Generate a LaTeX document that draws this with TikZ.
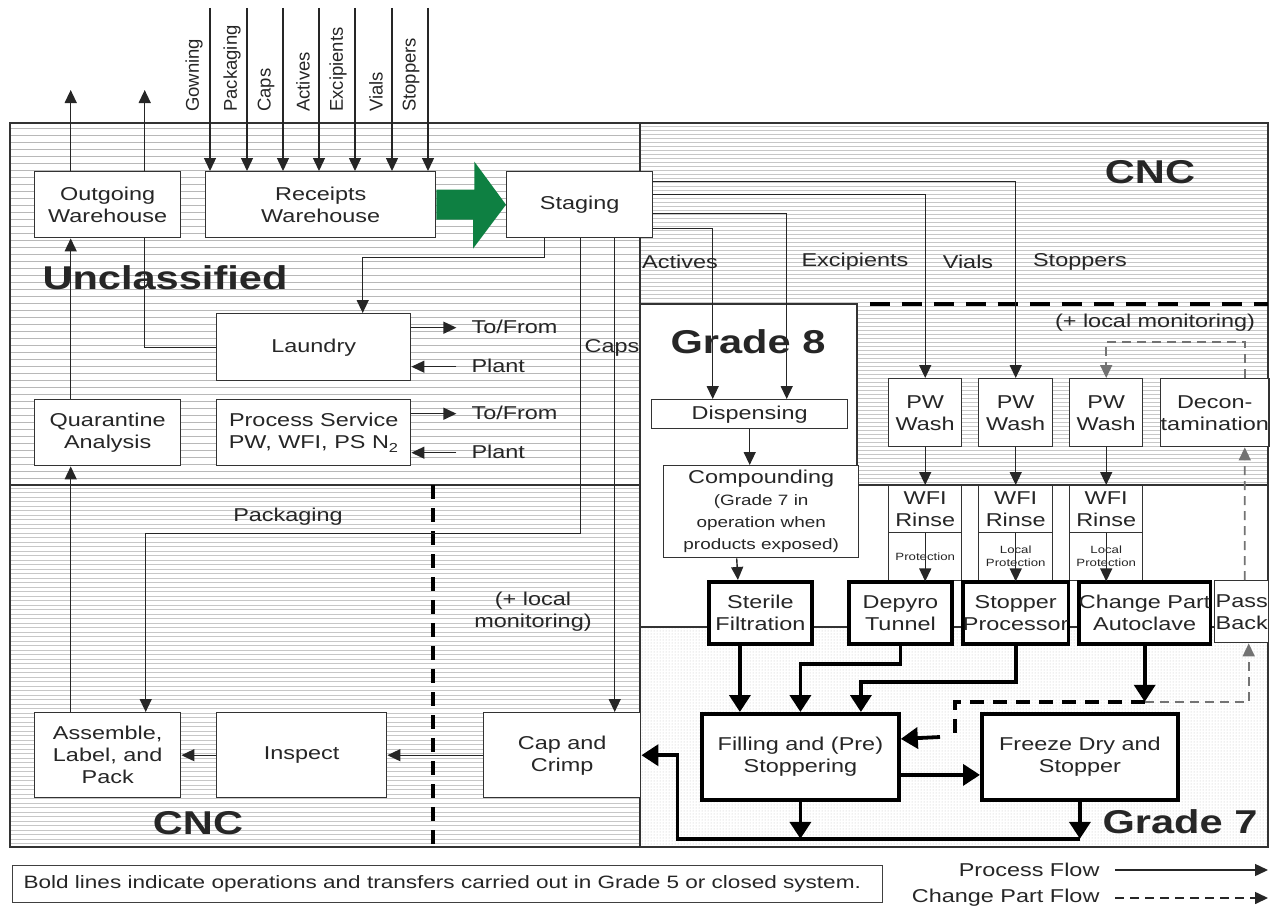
\documentclass[tikz,border=0pt]{standalone}
\usepackage{fontspec}
\setmainfont{Liberation Sans}[FakeStretch=1.26]
\newfontfamily\vfont{Liberation Sans}
\usetikzlibrary{arrows.meta,patterns}
\newcommand\fs{\fontsize{18.6}{22}\selectfont}
\newcommand\fsm{\fontsize{15}{18}\selectfont}
\newcommand\ftn{\fontsize{10.5}{13}\selectfont}
\newcommand\fleg{\fontsize{17.9}{20}\selectfont}
\newcommand\fbig{\fontsize{33}{38}\selectfont\bfseries}
\newcommand\vfs{\vfont\fontsize{18.5}{22}\selectfont}
\newcommand\mybx[7][]{\node[box,#1,anchor=north west,minimum width={#4-#2},minimum height={#5-#3}] (#6) at (#2,#3) {#7};}
\definecolor{arrgreen}{RGB}{14,128,66}
\begin{document}
\begin{tikzpicture}[x=1pt,y=-1pt,
  every node/.style={text=black!85},
  box/.style={draw=black!80, line width=1.4pt, fill=white, align=center, inner sep=0pt, font=\fs},
  tbox/.style={line width=3.8pt, draw=black},
  arr/.style={line width=1.4pt, draw=black!85, -{Triangle[length=13pt,width=12pt]}},
  tarr/.style={line width=3.8pt, draw=black, -{Triangle[length=17pt,width=21pt]}},
  dsh/.style={line width=1.6pt, draw=black!55, dash pattern=on 9pt off 6pt, -{Triangle[length=13pt,width=12pt]}},
  hl/.style={draw=black!28, line width=1pt},
  hl2/.style={draw=black!22, line width=0.8pt},
  rl/.style={draw=black!80, line width=1.3pt},
  lbl/.style={font=\fs},
  big/.style={font=\fbig}]
\useasboundingbox (0,0) rectangle (1279,907);
% ---------- backgrounds
\foreach \yy in {128,135,...,482} \draw[hl] (10,\yy) -- (640,\yy);
\foreach \yy in {126,130,...,302} \draw[hl2] (640,\yy) -- (1268,\yy);
\foreach \yy in {306,310,...,484} \draw[hl2] (857,\yy) -- (1268,\yy);
\foreach \yy in {488,492.5,...,845} \draw[hl2] (10,\yy) -- (640,\yy);
\fill[pattern=dots, pattern color=black!25] (640,627) rectangle (1268,847);
% ---------- region borders
\draw[rl] (10,123) rectangle (1268,847);
\draw[rl] (640,123) -- (640,847);
\draw[rl] (10,485) -- (640,485);
\draw[rl] (640,304) -- (857,304) -- (857,485) -- (1268,485);
\draw[rl] (640,627) -- (1268,627);
\draw[line width=3.5pt, dash pattern=on 20pt off 12pt] (870,304) -- (1268,304);
\draw[line width=3.5pt, dash pattern=on 14pt off 9pt] (433,485) -- (433,847);
% ---------- region labels
\node[big] (lunc) at (165,278) {Unclassified};
\node[big] (lcnc1) at (1150,172) {CNC};
\node[big] (lcnc2) at (198,823) {CNC};
\node[big] (lg8) at (748,342) {Grade 8};
\node[big] (lg7) at (1180,822) {Grade 7};
\node[lbl] (lmon1) at (1155,323) {(+ local monitoring)};
\node[lbl, align=center] (lmon2) at (533,612) {(+ local\\monitoring)};
% ---------- boxes
\mybx{34}{171}{180}{237}{outw}{Outgoing\\Warehouse}
\mybx{205}{171}{435}{237}{recw}{Receipts\\Warehouse}
\mybx{506}{171}{652}{237}{stg}{Staging}
\mybx{216}{313}{410}{380}{laun}{Laundry}
\mybx{216}{399}{410}{465}{proc}{Process Service\\PW, WFI, PS N\textsubscript{2}}
\mybx{34}{399}{180}{465}{quar}{Quarantine\\Analysis}
\mybx{34}{712}{180}{797}{asm}{Assemble,\\Label, and\\Pack}
\mybx{216}{712}{386}{797}{insp}{Inspect}
\mybx{483}{712}{640}{797}{cap}{Cap and\\Crimp}
\mybx{651}{399}{847}{428}{disp}{Dispensing}
\mybx{663}{465}{858}{557}{comp}{Compounding\\\fsm (Grade 7 in\\\fsm operation when\\\fsm products exposed)}
\mybx{888}{378}{961}{446}{pw1}{PW\\Wash}
\mybx{978}{378}{1052}{446}{pw2}{PW\\Wash}
\mybx{1069}{378}{1142}{446}{pw3}{PW\\Wash}
\mybx{1160}{378}{1268}{446}{dec}{Decon-\\tamination}
\mybx{888}{485}{961}{532}{wfi1}{WFI\\Rinse}
\mybx{978}{485}{1052}{532}{wfi2}{WFI\\Rinse}
\mybx{1069}{485}{1142}{532}{wfi3}{WFI\\Rinse}
\mybx[font=\ftn]{888}{532}{961}{580}{prot1}{Protection}
\mybx[font=\ftn]{978}{532}{1052}{580}{prot2}{Local\\Protection}
\mybx[font=\ftn]{1069}{532}{1142}{580}{prot3}{Local\\Protection}
\mybx[tbox]{707}{580}{810}{642}{ster}{Sterile\\Filtration}
\mybx[tbox]{847}{580}{950}{642}{depy}{Depyro\\Tunnel}
\mybx[tbox]{961}{580}{1065}{642}{stop}{Stopper\\Processor}
\mybx[tbox]{1077}{580}{1204}{642}{chg}{Change Part\\Autoclave}
\mybx{1214}{580}{1268}{642}{pass}{Pass\\Back}
\mybx[tbox]{700}{712}{897}{798}{fill}{Filling and (Pre)\\Stoppering}
\mybx[tbox]{980}{712}{1176}{798}{frz}{Freeze Dry and\\Stopper}
% ---------- green transfer arrow
\fill[arrgreen] ([yshift=15pt]recw.east) -- ++(38,0) -- ++(0,-28) -- (stg.west) -- ++(-33,44) -- ++(0,-29) -- ([yshift=-15pt]recw.east) -- cycle;
% ---------- incoming materials
\foreach \x/\lx/\t [count=\i] in {210/194/Gowning,247/232/Packaging,283/266/Caps,319/303/Actives,355/338/Excipients,392/376/Vials/PFS,428/411/Stoppers}{
  \coordinate (in\i) at (\x,8);
  \draw[arr] (in\i) -- (in\i |- recw.north);
  \node[rotate=90, anchor=west, font=\vfs, inner sep=0pt] (inl\i) at (\lx,112) {\t};
}
% ---------- outgoing
\draw[arr] ([xshift=-37pt]outw.north) -- ++(0,-81);
\draw[arr] ([xshift=37pt]outw.north) -- ++(0,-81);
\draw[line width=1.4pt, draw=black!85] (laun.west) -| ([xshift=37pt]outw.south);
\draw[arr] ([xshift=-37pt]quar.north) -- ([xshift=-37pt]outw.south);
\draw[arr] ([xshift=-37pt]asm.north) -- ([xshift=-37pt]quar.south);
% ---------- laundry / process service
\draw[arr] ([yshift=19.5pt]laun.east) -- ++(45,0);
\draw[arr] ([yshift=-19.5pt,xshift=45pt]laun.east) -- ([yshift=-19.5pt]laun.east);
\draw[arr] ([yshift=19pt]proc.east) -- ++(45,0);
\draw[arr] ([yshift=-20pt,xshift=45pt]proc.east) -- ([yshift=-20pt]proc.east);
\node[lbl, anchor=west] (tf1) at (468,327) {To/From};
\node[lbl, anchor=west] (pl1) at (468,366) {Plant};
\node[lbl, anchor=west] (tf2) at (468,413) {To/From};
\node[lbl, anchor=west] (pl2) at (468,452) {Plant};
% ---------- from staging
\draw[arr] ([xshift=-35pt]stg.south) -- ++(0,19) -| ([xshift=49pt]laun.north);
\draw[arr] ([xshift=1pt]stg.south) -- ++(0,295) -| ([xshift=38pt]asm.north);
\draw[arr] ([xshift=35pt]stg.south) -- ([xshift=52.5pt]cap.north);
\draw[arr] ([yshift=23pt]stg.east) -| (pw2.north);
\draw[arr] ([yshift=10pt]stg.east) -| (pw1.north);
\draw[arr] ([yshift=-9pt]stg.east) -| ([xshift=37pt]disp.north);
\draw[arr] ([yshift=-24pt]stg.east) -| ([xshift=-37pt]disp.north);
\node[lbl] (lpack) at (288,517) {Packaging};
\node[lbl] (lcaps) at (612,348) {Caps};
\node[lbl] (lact) at (680,262) {Actives};
\node[lbl] (lexc) at (855,262) {Excipients};
\node[lbl] (lvia) at (968,262) {Vials};
\node[lbl] (lsto) at (1080,262) {Stoppers};
% ---------- grade 8 flows
\draw[arr] ([xshift=-11.5pt]comp.north |- disp.south) -- ([xshift=-11.5pt]comp.north);
\draw[arr] ([xshift=-24.5pt]comp.south) -- ([xshift=-22.5pt]ster.north);
\draw[arr] (pw1.south) -- (wfi1.north);
\draw[arr] (pw2.south) -- (wfi2.north);
\draw[arr] (pw3.south) -- (wfi3.north);
\draw[arr] (wfi1.south) -- (prot1.south);
\draw[arr] (wfi2.south) -- (prot2.south);
\draw[arr] (wfi3.south) -- (prot3.south);
\draw[dsh] ([xshift=30pt]dec.north) -- ++(0,-36) -| (pw3.north);
\draw[dsh] ([xshift=3pt]pass.north) -- ([xshift=30pt]dec.south);
% ---------- grade 7 flows
\draw[tarr] ([xshift=-20.5pt]ster.south) -- ([xshift=-60.5pt]fill.north);
\draw[tarr] (depy.south) -- ++(0,18) -| (fill.north);
\draw[tarr] (stop.south) -- ++(0,36) -| ([xshift=60.5pt]fill.north);
\draw[tarr] (chg.south) -- ++(0,56) coordinate (cp);
\coordinate (cq) at (955,737);
\draw[line width=3.8pt, dash pattern=on 14pt off 9pt] (cp) -| (cq);
\draw[dsh] (cp) -| ([xshift=7pt]pass.south);
\draw[tarr] ([xshift=-15pt]cq) -- ([yshift=18pt]fill.east);
\draw[tarr] ([yshift=-18pt]fill.east) -- ([yshift=-18pt]frz.west);
\draw[tarr] (fill.south) -- ++(0,37);
\draw[tarr] (frz.south) -- ++(0,37) coordinate (fb);
\draw[tarr] (fb) -| ([xshift=36pt]cap.east) -- (cap.east);
\draw[arr] (cap.west) -- (insp.east);
\draw[arr] (insp.west) -- (asm.east);
% ---------- legend
\node[draw=black!75, line width=1.3pt, anchor=north west, minimum width=870pt, minimum height=37pt, inner sep=0pt] (legbox) at (12,865) {};
\node[font=\fleg, anchor=west] (legtxt) at (20,884) {Bold lines indicate operations and transfers carried out in Grade 5 or closed system.};
\node[font=\fs, anchor=east] (lpf) at (1103,870) {Process Flow};
\node[font=\fs, anchor=east] (lcf) at (1103,898) {Change Part Flow};
\coordinate (pf1) at (1115,870); \coordinate (pf2) at (1268,870);
\coordinate (cf1) at (1115,898); \coordinate (cf2) at (1268,898);
\draw[arr] (pf1) -- (pf2);
\draw[dsh, draw=black!85] (cf1) -- (cf2);
\end{tikzpicture}
\end{document}
